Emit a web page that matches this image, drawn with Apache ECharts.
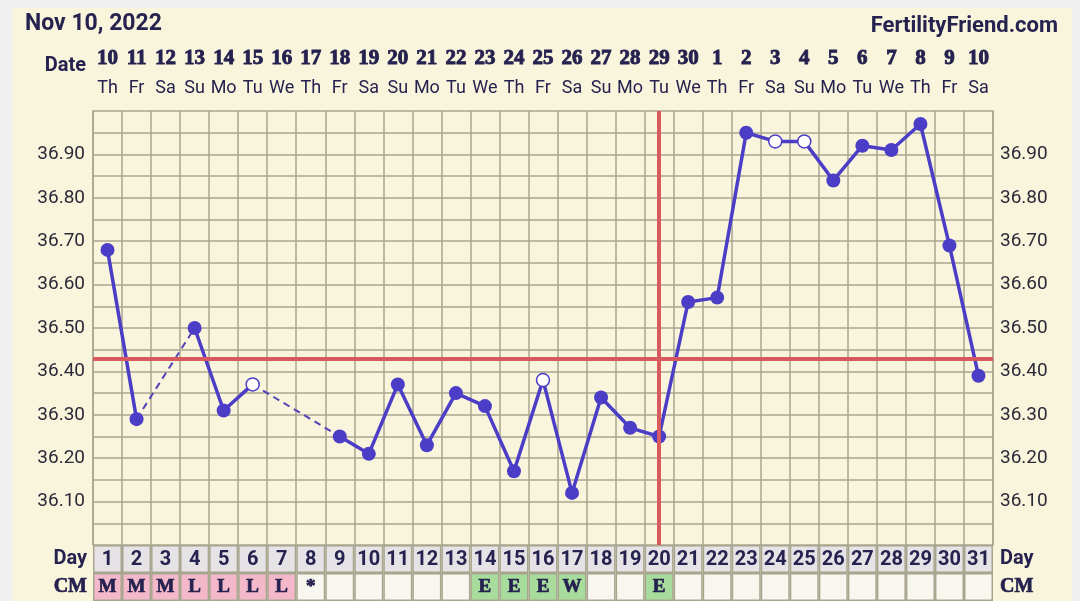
<!DOCTYPE html>
<html><head><meta charset="utf-8">
<script src="https://cdn.jsdelivr.net/npm/echarts@6/dist/echarts.min.js"></script>
<style>html,body{margin:0;padding:0;background:#f0f0f0}#c{width:1080px;height:601px}</style>
</head><body><div id="c"></div>
<script>
// ---- data ----
const cycleDays = ['1','2','3','4','5','6','7','8','9','10','11','12','13','14','15','16','17','18','19','20','21','22','23','24','25','26','27','28','29','30','31'];
const dates = ['10','11','12','13','14','15','16','17','18','19','20','21','22','23','24','25','26','27','28','29','30','1','2','3','4','5','6','7','8','9','10'];
const weekdays = ['Th','Fr','Sa','Su','Mo','Tu','We','Th','Fr','Sa','Su','Mo','Tu','We','Th','Fr','Sa','Su','Mo','Tu','We','Th','Fr','Sa','Su','Mo','Tu','We','Th','Fr','Sa'];
const temps = [36.68,36.29,null,36.50,36.31,36.37,null,null,36.25,36.21,36.37,36.23,36.35,36.32,36.17,36.38,36.12,36.34,36.27,36.25,36.56,36.57,36.95,36.93,36.93,36.84,36.92,36.91,36.97,36.69,36.39];
const openDays = ['6','16','24','25'];
const cmValues = ['M','M','M','L','L','L','L','*','','','','','','E','E','E','W','','','E','','','','','','','','','','',''];
const coverline = 36.43;
const ovulationDay = '20';
const yMin = 36.0, yMax = 37.0, yStep = 0.05;
const dateTitle = 'Nov 10, 2022';
const brand = 'FertilityFriend.com';

// ---- styles ----
const NAVY = '#26224f';
const GRID = '#a8a58f';
const PURPLE = '#4b3dc6';
const RED = '#d65a5e';
const SLAB = '"Liberation Serif", serif';
const cmColor = v => (v === 'M' || v === 'L') ? '#f3b8ca' : (v === 'E' || v === 'W') ? '#a8dc9c' : '#f7f6ef';

// main series data
const mainData = temps.map((t, i) => {
  if (t === null) return null;
  const open = openDays.includes(cycleDays[i]);
  return open ? { value: t, itemStyle: { color: '#ffffff', borderColor: PURPLE, borderWidth: 1.5 }, symbolSize: 13 } : t;
});

// dashed bridging series over missing days
const dashSeries = [];
for (let i = 0; i < temps.length; i++) {
  if (temps[i] === null && i > 0 && temps[i - 1] !== null) {
    let j = i;
    while (j < temps.length && temps[j] === null) j++;
    if (j < temps.length) {
      dashSeries.push({
        type: 'line', xAxisIndex: 0, yAxisIndex: 0, z: 3, symbol: 'none', silent: true,
        data: [[cycleDays[i - 1], temps[i - 1]], [cycleDays[j], temps[j]]],
        lineStyle: { color: '#5143b8', width: 2, type: [7, 5] }
      });
    }
  }
}

const labelFmt = v => {
  const k = Math.round(v * 100);
  return (k % 10 === 0 && v > yMin + 0.01 && v < yMax - 0.01) ? v.toFixed(2) : '';
};

const chart = echarts.init(document.getElementById('c'), null, { renderer: 'canvas' });
chart.setOption({
  backgroundColor: '#f9f5dc',
  animation: false,
  title: [
    { text: dateTitle, left: 20, top: 8, textStyle: { fontFamily: 'Roboto', fontWeight: 'bold', fontSize: 23, color: NAVY } },
    { text: brand, right: 17, top: 10, textStyle: { fontFamily: 'Roboto', fontWeight: 'bold', fontSize: 22, color: NAVY } }
  ],
  graphic: [
    { type: 'rect', shape: { x: 0, y: 0, width: 12, height: 601 }, style: { fill: '#f0f0f0' }, silent: true },
    { type: 'rect', shape: { x: 0, y: 0, width: 1080, height: 8 }, style: { fill: '#f0f0f0' }, silent: true },
    { type: 'rect', shape: { x: 1072, y: 0, width: 8, height: 601 }, style: { fill: '#f0f0f0' }, silent: true },
    { type: 'text', x: 86, y: 66, style: { text: 'Date', align: 'right', verticalAlign: 'middle', font: 'bold 20px Roboto', fill: NAVY }, silent: true }
  ],
  grid: [
    { left: 93, right: 87, top: 111, height: 434 },
    { left: 93, right: 87, top: 545, height: 60 }
  ],
  xAxis: [
    { gridIndex: 0, type: 'category', data: cycleDays, boundaryGap: true,
      axisLabel: { show: false }, axisTick: { show: false }, axisLine: { show: false },
      splitLine: { show: true, interval: 0, lineStyle: { color: GRID, width: 1.5 } } },
    { gridIndex: 0, type: 'category', position: 'top', data: dates.map((d, i) => d + '|' + weekdays[i] + '|' + i),
      axisTick: { show: false }, axisLine: { show: false }, splitLine: { show: false },
      axisLabel: { interval: 0, margin: 8,
        formatter: v => { const p = v.split('|'); return '{d|' + p[0] + '}\n{w|' + p[1] + '}'; },
        rich: {
          d: { fontFamily: SLAB, fontWeight: 'bold', fontSize: 21, color: NAVY, lineHeight: 31, align: 'center',
               textBorderColor: NAVY, textBorderWidth: 0.9 },
          w: { fontFamily: 'Roboto', fontSize: 18, color: NAVY, lineHeight: 29, align: 'center' }
        } } },
    { gridIndex: 1, type: 'category', data: cycleDays, show: false }
  ],
  yAxis: [
    { gridIndex: 0, type: 'value', min: yMin, max: yMax, interval: yStep,
      axisLine: { show: true, lineStyle: { color: GRID, width: 1.5 } }, axisTick: { show: false },
      splitLine: { show: true, lineStyle: { color: GRID, width: 1.5 } },
      axisLabel: { formatter: labelFmt, margin: 8, fontFamily: 'Roboto', fontSize: 19, color: '#2b2a38' } },
    { gridIndex: 0, type: 'value', position: 'right', min: yMin, max: yMax, interval: yStep,
      axisLine: { show: true, lineStyle: { color: GRID, width: 1.5 } }, axisTick: { show: false },
      splitLine: { show: false },
      axisLabel: { formatter: labelFmt, margin: 7, fontFamily: 'Roboto', fontSize: 19, color: '#2b2a38' } },
    { gridIndex: 1, type: 'value', min: 0, max: 2, show: false },
    { gridIndex: 1, type: 'category', position: 'left', data: [
        { value: 'CM', textStyle: { fontFamily: SLAB, fontWeight: 'bold', fontSize: 20, textBorderColor: NAVY, textBorderWidth: 0.7 } },
        { value: 'Day', textStyle: { fontFamily: 'Roboto', fontWeight: 'bold', fontSize: 20 } }],
      axisLine: { show: false }, axisTick: { show: false }, splitLine: { show: false },
      axisLabel: { margin: 6, color: NAVY } },
    { gridIndex: 1, type: 'category', position: 'right', data: [
        { value: 'CM', textStyle: { fontFamily: SLAB, fontWeight: 'bold', fontSize: 20, textBorderColor: NAVY, textBorderWidth: 0.7 } },
        { value: 'Day', textStyle: { fontFamily: 'Roboto', fontWeight: 'bold', fontSize: 20 } }],
      axisLine: { show: false }, axisTick: { show: false }, splitLine: { show: false },
      axisLabel: { margin: 7, color: NAVY } }
  ],
  series: [
    { type: 'line', xAxisIndex: 0, yAxisIndex: 0, z: 1, silent: true, symbol: 'none', data: [],
      markLine: { silent: true, symbol: 'none', label: { show: false },
        lineStyle: { color: RED, width: 4, type: 'solid' },
        data: [{ yAxis: coverline }, { xAxis: ovulationDay }] } },
    ...dashSeries,
    { type: 'line', xAxisIndex: 0, yAxisIndex: 0, z: 4, data: mainData, connectNulls: false,
      symbol: 'circle', symbolSize: 14, showAllSymbol: true,
      lineStyle: { color: PURPLE, width: 3.5 }, itemStyle: { color: PURPLE } },
    { type: 'bar', xAxisIndex: 2, yAxisIndex: 2, stack: 'cells', barWidth: '100%',
      data: cmValues.map(v => ({ value: 1, itemStyle: { color: cmColor(v) } })),
      itemStyle: { borderColor: GRID, borderWidth: 1.5 },
      label: { show: true, position: 'insideTop', distance: 5, formatter: p => cmValues[p.dataIndex],
        fontFamily: SLAB, fontWeight: 'bold', fontSize: 19, color: NAVY, textBorderColor: NAVY, textBorderWidth: 0.7 } },
    { type: 'bar', xAxisIndex: 2, yAxisIndex: 2, stack: 'cells', barWidth: '100%',
      data: cycleDays.map(() => 1),
      itemStyle: { color: '#e5e3e5', borderColor: GRID, borderWidth: 1.5 },
      label: { show: true, position: 'inside', offset: [0, 1], formatter: p => cycleDays[p.dataIndex],
        fontFamily: 'Roboto', fontWeight: 'bold', fontSize: 20, color: NAVY } }
  ]
});
</script></body></html>
